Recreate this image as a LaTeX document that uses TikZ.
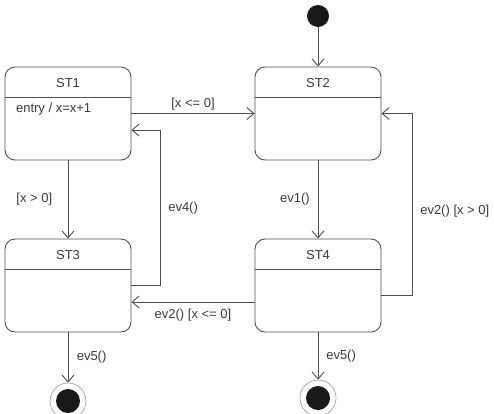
\documentclass[tikz,border=0pt]{standalone}
\usepackage{fontspec}
\setmainfont{Liberation Sans}
\usetikzlibrary{arrows.meta}
\definecolor{linegray}{HTML}{505050}
\definecolor{textgray}{HTML}{3A3A3A}
\begin{document}
\begin{tikzpicture}[x=1pt,y=-1pt,
    state/.style={draw=linegray,line width=0.9pt,rounded corners=10pt,
      minimum width=126pt,minimum height=93pt,inner sep=0pt},
    trans/.style={draw=linegray,line width=0.9pt,
      -{Straight Barb[length=7pt,width=12pt]}},
    lbl/.style={text=textgray,font=\fontsize{13}{15}\selectfont},
    initial/.style={circle,fill=black!90,minimum size=22pt,inner sep=0pt},
    final/.style={circle,draw=linegray!60,line width=0.6pt,minimum size=36pt,
      inner sep=0pt,path picture={\fill[black!90]
        (path picture bounding box.center) circle (12pt);}}]
  \useasboundingbox (0,0) rectangle (494,413);
  % states
  \node[state] (st1) at (68,113.5) {};
  \node[state] (st2) at (318,113.5) {};
  \node[state] (st3) at (68,285.5) {};
  \node[state] (st4) at (318,285.5) {};
  \foreach \s/\t in {st1/ST1,st2/ST2,st3/ST3,st4/ST4} {
    \node[lbl] (\s-title) at ([yshift=-16pt]\s.north) {\t};
    \draw[linegray,line width=0.9pt] ([yshift=-31pt]\s.north west) -- ([yshift=-31pt]\s.north east);
  }
  \node[lbl,anchor=west] (st1-entry) at ([xshift=8pt,yshift=-43pt]st1.north west) {entry / x=x+1};
  % pseudo states
  \node[initial] (init) at (318,16) {};
  \node[final] (end3) at (68,401) {};
  \node[final] (end4) at (318,398) {};
  \coordinate (ev4x) at (160,0);
  \coordinate (ev2x) at (412,0);
  % transitions
  \draw[trans] (init) -- (st2);
  \draw[trans] (st1) -- node[midway,above,lbl] {[x <= 0]} (st2);
  \draw[trans] (st1) -- node[midway,left=12pt,lbl] {[x > 0]} (st3);
  \draw[trans] (st2) -- node[midway,left=4.5pt,lbl] {ev1()} (st4);
  \draw[trans] (st3.east) -| node[pos=0.75,right=4.5pt,lbl] {ev4()} (ev4x |- 0,130) -- (st1.east |- 0,130);
  \draw[trans] ([yshift=-9.5pt]st4.east) -| node[pos=0.73,right=4.5pt,lbl] {ev2() [x > 0]} (ev2x |- st2.east) -- (st2.east);
  \draw[trans] (st4.west |- 0,302) -- node[midway,below=3pt,lbl] {ev2() [x <= 0]} (st3.east |- 0,302);
  \draw[trans] (st3) -- node[midway,right=5pt,lbl] {ev5()} (end3);
  \draw[trans] (st4) -- node[midway,right=4.5pt,lbl] {ev5()} (end4);
\end{tikzpicture}
\end{document}
